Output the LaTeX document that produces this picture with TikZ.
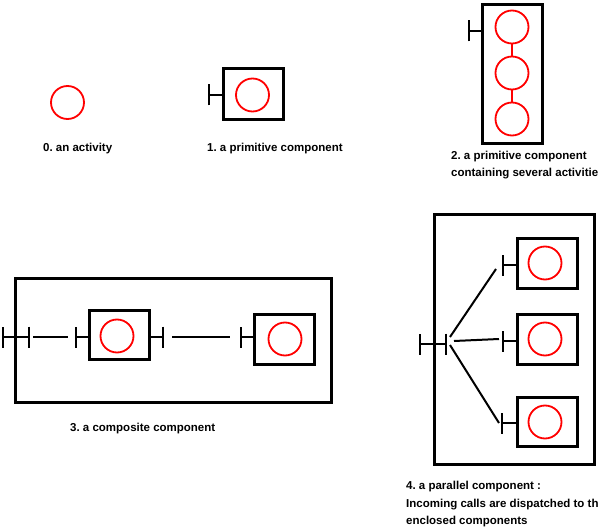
\documentclass[tikz,border=0pt]{standalone}
\usepackage{fontspec}
\setmainfont{Liberation Sans}
\usetikzlibrary{arrows.meta}
\frenchspacing
\begin{document}
\begin{tikzpicture}[x=1pt,y=-1pt,
  comp/.style={draw,rectangle,line width=2.8pt,inner sep=0pt,minimum width=60pt,minimum height=50pt},
  act/.style={draw=red,circle,line width=1.8pt,inner sep=0pt,minimum size=33pt},
  wire/.style={line width=2pt},
  port/.style={line width=2pt,{Bar[width=21pt,line width=2pt]}-},
  dport/.style={line width=2pt,{Bar[width=21pt,line width=2pt]}-{Bar[width=21pt,line width=2pt]}},
  lbl/.style={font=\fontsize{11.5}{16}\selectfont\bfseries\frenchspacing,inner sep=0pt,anchor=base west}]
\useasboundingbox (0,0) rectangle (598,527);
\clip (0,0) rectangle (598,527);
% 0. an activity
\node[act] (c0) at (67.5,102.5) {};
\node[lbl] (l0) at (43,151) {0. an activity};
% 1. primitive component
\node[comp,minimum height=51pt] (b1) at (253.5,94) {};
\node[act] (c1) at (252.5,95) {};
\coordinate (p1) at (208,95);
\draw[port] (p1) -- (b1.west |- p1);
\node[lbl] (l1) at (207,151) {1. a primitive component};
% 2. primitive component with several activities
\node[comp,minimum height=139pt] (b2) at (512.5,74) {};
\node[act] (c2a) at (512,27) {};
\node[act] (c2b) at (512,73) {};
\node[act] (c2c) at (512,119) {};
\draw[red,line width=1.8pt] (c2a.south) -- (c2b.north);
\draw[red,line width=1.8pt] (c2b.south) -- (c2c.north);
\coordinate (p2) at (468,31);
\draw[port] (p2) -- (b2.west |- p2);
\node[lbl] (l2a) at (451,160) {2. a primitive component};
\node[lbl] (l2b) at (451,176) {containing several activities};
% 3. composite component
\node[comp,minimum width=316pt,minimum height=124pt] (b3) at (173.5,340.5) {};
\node[comp,minimum height=49pt] (b3a) at (119.5,335) {};
\node[act] (c3a) at (117,336) {};
\node[comp] (b3b) at (284.5,339.5) {};
\node[act] (c3b) at (285,339) {};
\coordinate (q0) at (2,337);
\coordinate (q1) at (30,337);
\coordinate (q2) at (33,337);
\coordinate (q3) at (68,337);
\coordinate (q4) at (75,337);
\coordinate (q5) at (164,337);
\coordinate (q6) at (172,337);
\coordinate (q7) at (230,337);
\coordinate (q8) at (240,337);
\draw[dport] (q0) -- (q1);
\draw[wire] (q2) -- (q3);
\draw[port] (q4) -- (b3a.west |- q4);
\draw[port] (q5) -- (b3a.east |- q5);
\draw[wire] (q6) -- (q7);
\draw[port] (q8) -- (b3b.west |- q8);
\node[lbl] (l3) at (70,431) {3. a composite component};
% 4. parallel component
\node[comp,minimum width=160pt,minimum height=250pt] (b4) at (514.5,339.5) {};
\node[comp] (b4a) at (547.5,263.5) {};
\node[comp] (b4b) at (547.5,339.5) {};
\node[comp,minimum height=49pt] (b4c) at (547.5,422) {};
\node[act] (c4a) at (545,263) {};
\node[act] (c4b) at (545,339) {};
\node[act] (c4c) at (545,422) {};
\coordinate (r0) at (419,344);
\coordinate (r1) at (447,344);
\draw[dport] (r0) -- (r1);
\coordinate (pa) at (502,265);
\coordinate (pb) at (502,341);
\coordinate (pc) at (501,423);
\draw[port] (pa) -- (b4a.west |- pa);
\draw[port] (pb) -- (b4b.west |- pb);
\draw[port] (pc) -- (b4c.west |- pc);
\coordinate (f0) at (450,337);
\coordinate (f1) at (496,269);
\coordinate (g0) at (454,341);
\coordinate (g1) at (499,339);
\coordinate (h0) at (450,345);
\coordinate (h1) at (499,423);
\draw[wire] (f0) -- (f1);
\draw[wire] (g0) -- (g1);
\draw[wire] (h0) -- (h1);
\node[lbl] (l4a) at (406,489) {4. a parallel component :};
\node[lbl] (l4b) at (406,507) {Incoming calls are dispatched to the};
\node[lbl] (l4c) at (406,524) {enclosed components};
\end{tikzpicture}
\end{document}
